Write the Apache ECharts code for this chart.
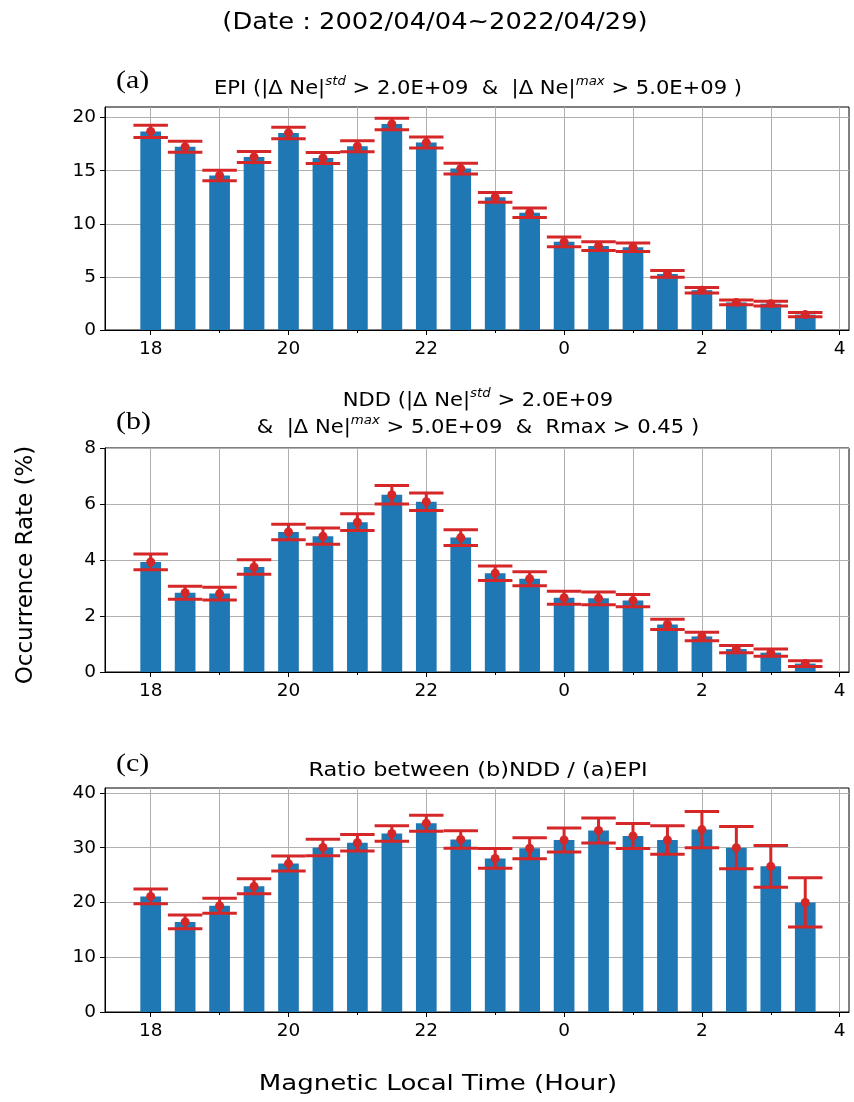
<!DOCTYPE html>
<html><head><meta charset="utf-8">
<script src="https://cdn.jsdelivr.net/npm/echarts@6/dist/echarts.min.js"></script>
<style>html,body{margin:0;padding:0;background:#fff}#c{width:854px;height:1102px}</style>
</head><body><div id="c"></div>
<script>
// Magnetic local time bins (hours)
const mlt = [18,18.5,19,19.5,20,20.5,21,21.5,22,22.5,23,23.5,0,0.5,1,1.5,2,2.5,3,3.5];
// (a) EPI occurrence rate (%) and error
const epiRate = [18.7,17.25,14.55,16.3,18.55,16.2,17.3,19.4,17.65,15.2,12.5,11.05,8.3,7.9,7.8,5.28,3.75,2.6,2.48,1.45];
const epiErr  = [0.58,0.52,0.5,0.52,0.54,0.52,0.52,0.54,0.52,0.5,0.46,0.45,0.45,0.42,0.4,0.32,0.26,0.22,0.22,0.2];
// (b) NDD occurrence rate (%) and error
const nddRate = [3.93,2.83,2.8,3.75,5.0,4.85,5.35,6.33,6.08,4.8,3.53,3.33,2.65,2.63,2.55,1.7,1.27,0.82,0.69,0.3];
const nddErr  = [0.28,0.23,0.23,0.26,0.28,0.29,0.3,0.33,0.31,0.28,0.26,0.25,0.23,0.23,0.22,0.18,0.15,0.13,0.13,0.1];
// (c) Ratio NDD/EPI (%) and error
const ratioRate = [21.1,16.45,19.4,22.95,27.1,30.05,30.9,32.6,34.45,31.5,28.05,29.9,31.4,33.15,32.15,31.4,33.3,30.0,26.6,20.0];
const ratioErr  = [1.35,1.25,1.35,1.37,1.37,1.5,1.5,1.43,1.46,1.6,1.8,1.9,2.2,2.28,2.28,2.6,3.3,3.85,3.8,4.5];
// tick labels
const xMajorTicks = [18,20,22,0,2,4];
const xMinorTicks = [19,21,23,1,3];
const yTicksA = [0,5,10,15,20];
const yTicksB = [0,2,4,6,8];
const yTicksC = [0,10,20,30,40];

const toCont = h => (h < 12 ? h + 24 : h);
const X_MIN = 17.337, X_MAX = 28.135;
const RED = '#d62728', BLUE = '#1f77b4';
const TICK_FONT = 18.5;

const panels = [
  {top:107, height:223, ymax:21,   yticks:yTicksA, vals:epiRate,   errs:epiErr},
  {top:448, height:224, ymax:8,    yticks:yTicksB, vals:nddRate,   errs:nddErr},
  {top:788, height:224, ymax:40.9, yticks:yTicksC, vals:ratioRate, errs:ratioErr}
];

const grid = [], xAxis = [], yAxis = [], series = [];
panels.forEach((p, i) => {
  grid.push({left:105, right:5, top:p.top, height:p.height, show:true, borderColor:'#000', borderWidth:1, backgroundColor:'transparent'});
  xAxis.push({
    type:'value', gridIndex:i, min:X_MIN, max:X_MAX, position:'bottom',
    axisLine:{show:true, onZero:false, lineStyle:{color:'#000', width:1}},
    axisTick:{show:true, length:5, lineStyle:{color:'#000', width:1}, customValues: xMajorTicks.map(toCont)},
    axisLabel:{show:true, color:'#000', fontSize:TICK_FONT, fontFamily:'DejaVu Sans', margin:10,
      customValues: xMajorTicks.map(toCont), formatter: v => String(Math.round(v) % 24)},
    splitLine:{show:true, lineStyle:{color:'#b0b0b0', width:1}}
  });
  xAxis.push({
    type:'value', gridIndex:i, min:X_MIN, max:X_MAX, position:'bottom',
    axisLine:{show:false},
    axisTick:{show:true, length:3, lineStyle:{color:'#000', width:1}, customValues: xMinorTicks.map(toCont)},
    axisLabel:{show:false},
    splitLine:{show:true, lineStyle:{color:'#b0b0b0', width:1}}
  });
  yAxis.push({
    type:'value', gridIndex:i, min:0, max:p.ymax,
    axisLine:{show:true, lineStyle:{color:'#000', width:1}},
    axisTick:{show:true, length:5, lineStyle:{color:'#000'}, customValues:p.yticks},
    axisLabel:{color:'#000', fontSize:TICK_FONT, fontFamily:'DejaVu Sans', margin:9, customValues:p.yticks},
    splitLine:{show:true, lineStyle:{color:'#b0b0b0', width:1}}
  });
  series.push({
    type:'bar', xAxisIndex:i*2, yAxisIndex:i, barWidth:20.7,
    itemStyle:{color:BLUE}, silent:true, animation:false,
    data: mlt.map((h,k) => [toCont(h), p.vals[k]])
  });
  series.push({
    type:'custom', coordinateSystem:'cartesian2d', xAxisIndex:i*2, yAxisIndex:i, animation:false, silent:true,
    encode:{x:0, y:1}, z:5,
    data: mlt.map((h,k) => [toCont(h), p.vals[k], p.errs[k]]),
    renderItem: (params, api) => {
      const x = api.value(0), v = api.value(1), e = api.value(2);
      const t = api.coord([x, v + e]), b = api.coord([x, v - e]), c = api.coord([x, v]);
      const half = api.size([0.25, 0])[0];
      const ls = {stroke:RED, lineWidth:3};
      return {type:'group', children:[
        {type:'line', shape:{x1:t[0], y1:t[1], x2:b[0], y2:b[1]}, style:ls},
        {type:'line', shape:{x1:t[0]-half, y1:t[1], x2:t[0]+half, y2:t[1]}, style:ls},
        {type:'line', shape:{x1:b[0]-half, y1:b[1], x2:b[0]+half, y2:b[1]}, style:ls},
        {type:'circle', shape:{cx:c[0], cy:c[1], r:4.5}, style:{fill:RED}}
      ]};
    }
  });
});

const sansFont = 'DejaVu Sans';
const TF = 19;
const supStyle = {fontSize:12, fontStyle:'italic', fontFamily:sansFont, verticalAlign:'top', lineHeight:12, fill:'#000', color:'#000'};
const titleRich = lh => ({sup: supStyle, n:{fontSize:TF, fontFamily:sansFont, lineHeight:lh}});

const graphic = [
  {type:'text', x:435, y:23, scaleX:1.12, style:{text:'(Date : 2002/04/04~2022/04/29)', font:'23px "DejaVu Sans"', fill:'#000', align:'center', verticalAlign:'middle'}},
  {type:'text', x:116, y:81, scaleX:1.2, style:{text:'(a)', font:'25px "Liberation Serif"', fill:'#000', align:'left', verticalAlign:'middle'}},
  {type:'text', x:116, y:422, scaleX:1.2, style:{text:'(b)', font:'25px "Liberation Serif"', fill:'#000', align:'left', verticalAlign:'middle'}},
  {type:'text', x:116, y:764, scaleX:1.2, style:{text:'(c)', font:'25px "Liberation Serif"', fill:'#000', align:'left', verticalAlign:'middle'}},
  {type:'text', x:478, y:89, scaleX:1.11, style:{
    text:'{n|EPI (|Δ Ne|}{sup|std}{n| > 2.0E+09  &  |Δ Ne|}{sup|max}{n| > 5.0E+09 )}',
    rich:titleRich(26), fill:'#000', align:'center', verticalAlign:'middle'}},
  {type:'text', x:478, y:415, scaleX:1.11, style:{
    text:'{n|NDD (|Δ Ne|}{sup|std}{n| > 2.0E+09}\n{n|&  |Δ Ne|}{sup|max}{n| > 5.0E+09  &  Rmax > 0.45 )}',
    rich:titleRich(27), fill:'#000', align:'center', verticalAlign:'middle'}},
  {type:'text', x:478, y:771, scaleX:1.18, style:{text:'Ratio between (b)NDD / (a)EPI', font:TF + 'px "DejaVu Sans"', fill:'#000', align:'center', verticalAlign:'middle'}},
  {type:'text', x:26, y:565, rotation:Math.PI/2, style:{text:'Occurrence Rate (%)', font:'23px "DejaVu Sans"', fill:'#000', align:'center', verticalAlign:'middle'}},
  {type:'text', x:438, y:1085, scaleX:1.24, style:{text:'Magnetic Local Time (Hour)', font:'21px "DejaVu Sans"', fill:'#000', align:'center', verticalAlign:'middle'}}
];

const chart = echarts.init(document.getElementById('c'), null, {renderer:'canvas'});
chart.setOption({animation:false, backgroundColor:'#fff', grid, xAxis, yAxis, series, graphic});
</script>
</body></html>
